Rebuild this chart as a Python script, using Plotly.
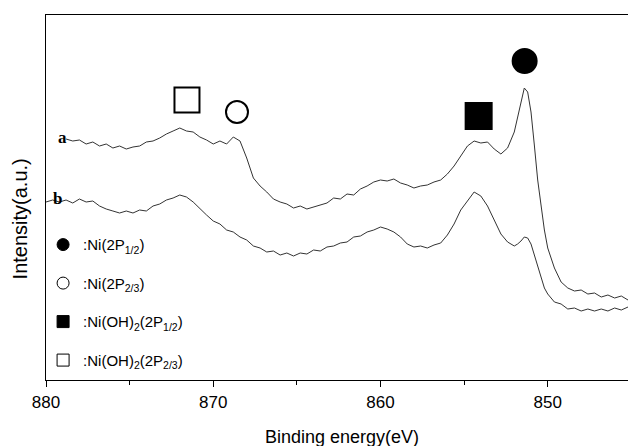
import plotly.graph_objects as go

# Binding energy (eV) grid and intensities (a.u.)
energy_a = [878.8, 878.4, 878.0, 877.6, 877.2, 876.8, 876.4, 876.0, 875.6, 875.2,
            874.8, 874.4, 874.0, 873.6, 873.2, 872.8, 872.4, 872.0, 871.6, 871.2,
            870.8, 870.4, 870.0, 869.6, 869.2, 868.8, 868.4, 868.0, 867.6, 867.2,
            866.8, 866.4, 866.0, 865.6, 865.2, 864.8, 864.4, 864.0, 863.6, 863.2,
            862.8, 862.4, 862.0, 861.6, 861.2, 860.8, 860.4, 860.0, 859.6, 859.2,
            858.8, 858.4, 858.0, 857.6, 857.2, 856.8, 856.4, 856.0, 855.6, 855.2,
            854.8, 854.4, 854.0, 853.6, 853.2, 852.8, 852.4, 852.0,
            851.8, 851.6, 851.4, 851.2, 851.0, 850.8, 850.6, 850.4, 850.2, 850.0,
            849.6, 849.2, 848.8, 848.4, 848.0, 847.6, 847.2, 846.8, 846.4, 846.0,
            845.6, 845.2]
intensity_a = [241, 239, 240, 236, 238, 234, 236, 232, 234, 231,
               233, 234, 238, 239, 242, 246, 249, 252, 249, 248,
               243, 240, 236, 239, 236, 243, 239, 222, 202, 194,
               188, 181, 178, 176, 172, 174, 171, 173, 175, 177,
               182, 181, 186, 185, 191, 194, 198, 200, 199, 201,
               197, 195, 192, 194, 195, 198, 200, 206, 214, 224,
               234, 239, 237, 238, 231, 226, 232, 248,
               263, 280, 292, 288, 268, 235, 200, 175, 150, 132,
               112, 98, 92, 89, 90, 86, 87, 83, 85, 82,
               84, 80]

energy_b = [880.0, 879.6, 879.2,
            878.8, 878.4, 878.0, 877.6, 877.2, 876.8, 876.4, 876.0, 875.6, 875.2,
            874.8, 874.4, 874.0, 873.6, 873.2, 872.8, 872.4, 872.0, 871.6, 871.2,
            870.8, 870.4, 870.0, 869.6, 869.2, 868.8, 868.4, 868.0, 867.6, 867.2,
            866.8, 866.4, 866.0, 865.6, 865.2, 864.8, 864.4, 864.0, 863.6, 863.2,
            862.8, 862.4, 862.0, 861.6, 861.2, 860.8, 860.4, 860.0, 859.6, 859.2,
            858.8, 858.4, 858.0, 857.6, 857.2, 856.8, 856.4, 856.0, 855.6, 855.2,
            854.8, 854.4, 854.0, 853.6, 853.2, 852.8, 852.4, 852.0,
            851.8, 851.6, 851.4, 851.2, 851.0, 850.8, 850.6, 850.4, 850.2, 850.0,
            849.6, 849.2, 848.8, 848.4, 848.0, 847.6, 847.2, 846.8, 846.4, 846.0,
            845.6, 845.2]
intensity_b = [178, 180, 178, 180, 177, 181, 178, 179, 174, 171,
               169, 167, 169, 167, 170, 169, 174, 176, 180, 182,
               185, 183, 178, 171, 165, 159, 156, 150, 148, 143,
               140, 134, 132, 128, 129, 125, 127, 124, 127, 126,
               130, 129, 133, 134, 137, 138, 143, 144, 148, 150,
               153, 151, 148, 143, 136, 133, 134, 132, 135, 137,
               145, 156, 170, 179, 188, 184, 174, 160, 146, 138,
               134,
               136, 139, 143, 142, 136, 125, 112, 102, 92, 86,
               78, 76, 71, 72, 69, 71, 69, 71, 69, 72,
               70, 73]

# Peak markers
peak_x = [871.57, 868.58, 854.13, 851.38]
peak_y = [280, 268, 264, 319]
peak_symbols = ["square-open", "circle-open", "square", "circle"]
peak_sizes = [25, 22, 26, 24]

legend_labels = [":Ni(2P<sub>1/2</sub>)", ":Ni(2P<sub>2/3</sub>)",
                 ":Ni(OH)<sub>2</sub>(2P<sub>1/2</sub>)", ":Ni(OH)<sub>2</sub>(2P<sub>2/3</sub>)"]
legend_symbols = ["circle", "circle-open", "square", "square-open"]

x_ticks = [880, 870, 860, 850]

FONT = "Arial, Liberation Sans, sans-serif"
SERIF = "Liberation Serif, Times New Roman, serif"

fig = go.Figure()
fig.add_trace(go.Scatter(x=energy_a, y=intensity_a, mode="lines",
                         line=dict(color="#333333", width=1),
                         showlegend=False, hoverinfo="skip"))
fig.add_trace(go.Scatter(x=energy_b, y=intensity_b, mode="lines",
                         line=dict(color="#333333", width=1),
                         showlegend=False, hoverinfo="skip"))
fig.add_trace(go.Scatter(x=peak_x, y=peak_y, mode="markers", showlegend=False, opacity=1,
                         marker=dict(symbol=peak_symbols, size=peak_sizes, color="black",
                                     opacity=1, line=dict(color="black", width=2))))
for i, (lab, sym) in enumerate(zip(legend_labels, legend_symbols)):
    fig.add_trace(go.Scatter(x=[None], y=[None], mode="markers", name=lab,
                             legendgroup=f"g{i}",
                             marker=dict(symbol=sym, size=12, color="black",
                                         line=dict(color="black", width=1))))

fig.add_annotation(x=879.04, y=243, text="<b>a</b>", showarrow=False,
                   font=dict(family=SERIF, size=17, color="black"))
fig.add_annotation(x=879.34, y=182, text="<b>b</b>", showarrow=False,
                   font=dict(family=SERIF, size=17, color="black"))

fig.add_annotation(xref="paper", yref="paper", x=0.509, y=0, yshift=-57,
                   text="Binding energy(eV)", showarrow=False, yanchor="middle",
                   font=dict(family=FONT, size=18, color="black"))
fig.add_annotation(xref="paper", yref="paper", x=0, xshift=-26, y=0.44,
                   text="Intensity(a.u.)", showarrow=False, textangle=-90, xanchor="center",
                   font=dict(family=FONT, size=20, color="black"))

fig.update_layout(
    width=628, height=446,
    margin=dict(l=46, r=0, t=15, b=66),
    paper_bgcolor="white", plot_bgcolor="white",
    font=dict(family=FONT, size=16, color="black"),
    legend=dict(x=-0.005, xanchor="left", y=0.4155, yanchor="top",
                traceorder="grouped", tracegroupgap=16,
                font=dict(family=FONT, size=15, color="black"),
                bgcolor="rgba(0,0,0,0)"),
    xaxis=dict(range=[880, 845.2], tickvals=x_ticks, ticks="outside", ticklen=6,
               tickwidth=1, tickcolor="black", showline=True, linecolor="black",
               linewidth=1.3, mirror=True, showgrid=False, zeroline=False,
               minor=dict(dtick=5, tick0=880, ticks="outside", ticklen=4,
                          tickcolor="black", showgrid=False),
               tickfont=dict(size=17)),
    yaxis=dict(range=[0, 365], showticklabels=False, ticks="", showline=True,
               linecolor="black", linewidth=1.3, mirror=False, showgrid=False,
               zeroline=False),
)

fig.write_html("out.html")
